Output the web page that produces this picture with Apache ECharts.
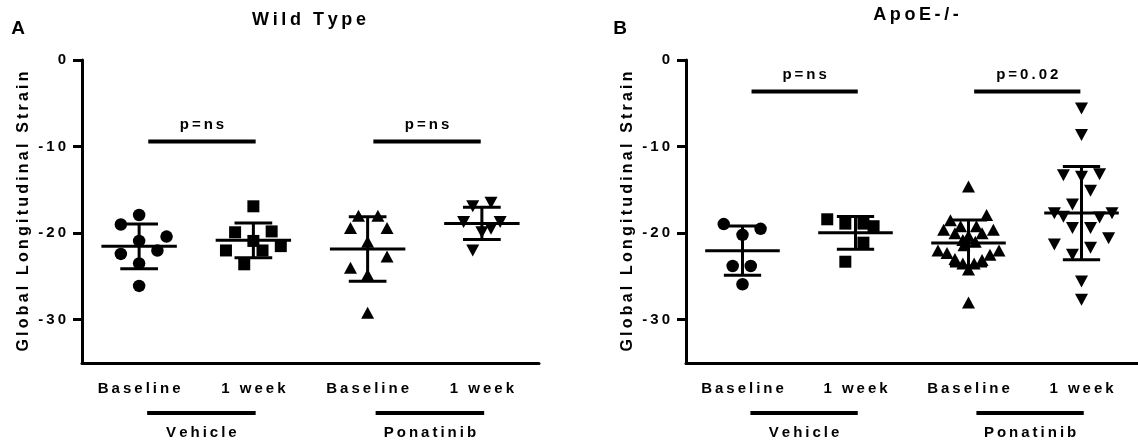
<!DOCTYPE html>
<html>
<head>
<meta charset="utf-8">
<script src="https://cdn.jsdelivr.net/npm/echarts@6/dist/echarts.min.js"></script>
<style>
  html, body { margin: 0; padding: 0; background: #fff; }
  #chart { width: 1138px; height: 447px; }
</style>
</head>
<body>
<div id="chart"></div>
<script>
const categories = ['Baseline', '1 week', 'Baseline', '1 week'];
const groups = ['Vehicle', 'Ponatinib'];
const groupSpans = [[0.07, 1.02], [2.07, 3.02]];
const yTicks = [0, -10, -20, -30];
const yMin = -35;

// A: wild type
const wtVehBase = [-17.9, -19.0, -20.4, -20.9, -22.4, -22.0, -23.5, -26.1];
const wtVehBaseJit = [0, -0.16, 0.24, 0, -0.16, 0.16, 0, 0];
const wtVehWeek = [-16.9, -19.9, -19.8, -20.9, -22.0, -22.0, -21.5, -23.6];
const wtVehWeekJit = [0, -0.16, 0.16, 0, -0.24, 0.08, 0.24, -0.08];
const wtPonBase = [-18.0, -18.0, -19.4, -19.4, -21.0, -22.7, -24.0, -24.8, -29.2];
const wtPonBaseJit = [-0.08, 0.09, -0.15, 0.17, 0, 0.17, -0.15, 0, 0];
const wtPonWeek = [-16.5, -16.9, -18.7, -18.7, -19.5, -19.9, -22.0];
const wtPonWeekJit = [0.08, -0.08, -0.16, 0.16, 0.08, 0, -0.08];
const wtPSpans = [[0.08, 1.02], [2.05, 2.99]];
const wtPLevel = [-9.4, -9.4];
const wtPText = ['p=ns', 'p=ns'];

// B: ApoE-/-
const apoVehBase = [-18.95, -19.5, -20.2, -23.8, -23.8, -25.9];
const apoVehBaseJit = [-0.166, 0.16, 0, -0.087, 0.073, 0];
const apoVehWeek = [-18.4, -18.9, -18.9, -19.2, -21.1, -23.3];
const apoVehWeekJit = [-0.25, -0.09, 0.07, 0.16, 0.07, -0.09];
const apoPonBase = [-14.6, -17.9, -18.5, -19.2, -19.2, -19.6, -19.6, -20.0, -20.0, -20.3, -20.8, -21.0,
  -21.4, -22.0, -22.0, -22.3, -22.5, -23.0, -23.1, -23.5, -23.5, -24.2, -28.0];
const apoPonBaseJit = [0, 0.16, -0.16, -0.07, 0.07, -0.22, 0.22, -0.12, 0.12, 0, -0.05, 0.06,
  -0.04, -0.27, 0.27, -0.19, 0.19, -0.12, 0.12, -0.05, 0.05, 0, 0];
const apoPonWeek = [-5.6, -8.65, -13.3, -13.5, -13.2, -15.1, -16.7, -17.7, -18.1, -17.7, -18.2,
  -19.4, -19.4, -21.3, -20.6, -22.5, -21.7, -25.6, -27.7];
const apoPonWeekJit = [0, 0, -0.16, 0, 0.16, 0.08, -0.08, -0.24, -0.16, 0.27, 0.16,
  -0.08, 0.08, -0.24, 0.24, -0.08, 0.08, 0, 0];
const apoPSpans = [[0.08, 1.02], [2.05, 2.99]];
const apoPLevel = [-3.65, -3.65];
const apoPText = ['p=ns', 'p=0.02'];

const FONT = '"Liberation Sans", Arial, sans-serif';
// GraphPad-style wide tracking (thin space between letters)
const spaced = s => String(s).split('').join('\u2009');

function meanSd(arr) {
  const n = arr.length;
  const m = arr.reduce((a, b) => a + b, 0) / n;
  const sd = Math.sqrt(arr.reduce((a, b) => a + (b - m) * (b - m), 0) / (n - 1));
  return [m, sd];
}

function scatter(vals, jit, cat, symbol, size, rotate, xi, yi) {
  return {
    type: 'scatter', xAxisIndex: xi, yAxisIndex: yi, silent: true, z: 3,
    symbol: symbol, symbolSize: size, symbolRotate: rotate,
    itemStyle: { color: '#000', opacity: 1 },
    data: vals.map((v, i) => [cat + jit[i], v])
  };
}

function errorBars(cols, xi, yi) {
  return {
    type: 'custom', xAxisIndex: xi, yAxisIndex: yi, silent: true, z: 4, clip: false,
    data: cols.map((c, i) => [i].concat(meanSd(c))),
    renderItem: function (params, api) {
      const x = api.value(0), m = api.value(1), sd = api.value(2);
      const c = api.coord([x, m]);
      const hi = api.coord([x, m + sd])[1];
      const lo = api.coord([x, m - sd])[1];
      const half = api.size([0.33, 0])[0];
      const cap = api.size([0.165, 0])[0];
      const style = { stroke: '#000', lineWidth: 3 };
      return {
        type: 'group', children: [
          { type: 'line', shape: { x1: c[0] - half, y1: c[1], x2: c[0] + half, y2: c[1] }, style: style },
          { type: 'line', shape: { x1: c[0], y1: hi, x2: c[0], y2: lo }, style: style },
          { type: 'line', shape: { x1: c[0] - cap, y1: hi, x2: c[0] + cap, y2: hi }, style: style },
          { type: 'line', shape: { x1: c[0] - cap, y1: lo, x2: c[0] + cap, y2: lo }, style: style }
        ]
      };
    }
  };
}

function pBars(spans, levels, texts, xi, yi) {
  return {
    type: 'custom', xAxisIndex: xi, yAxisIndex: yi, silent: true, z: 4, clip: false,
    data: spans.map((s, i) => [s[0], s[1], levels[i]]),
    renderItem: function (params, api) {
      const a = api.coord([api.value(0), api.value(2)]);
      const b = api.coord([api.value(1), api.value(2)]);
      return {
        type: 'group', children: [
          { type: 'line', shape: { x1: a[0], y1: a[1], x2: b[0], y2: b[1] }, style: { stroke: '#000', lineWidth: 4 } },
          { type: 'text', x: (a[0] + b[0]) / 2, y: a[1] - 9,
            style: { text: spaced(texts[params.dataIndex]), fill: '#000', font: 'bold 15px ' + FONT,
              align: 'center', verticalAlign: 'bottom' } }
        ]
      };
    }
  };
}

function groupBrackets(xi, yi) {
  return {
    type: 'custom', xAxisIndex: xi, yAxisIndex: yi, silent: true, z: 4, clip: false,
    data: groupSpans.map(s => [s[0], s[1], yMin]),
    renderItem: function (params, api) {
      const a = api.coord([api.value(0), api.value(2)]);
      const b = api.coord([api.value(1), api.value(2)]);
      return {
        type: 'group', children: [
          { type: 'line', shape: { x1: a[0], y1: a[1] + 50, x2: b[0], y2: a[1] + 50 }, style: { stroke: '#000', lineWidth: 4 } },
          { type: 'text', x: (a[0] + b[0]) / 2, y: a[1] + 70,
            style: { text: spaced(groups[params.dataIndex]), fill: '#000', font: 'bold 15px ' + FONT,
              align: 'center', verticalAlign: 'middle' } }
        ]
      };
    }
  };
}

function catAxis(gi) {
  return {
    type: 'category', gridIndex: gi, data: categories, boundaryGap: true,
    axisLine: { onZero: false, lineStyle: { color: '#000', width: 3 } },
    axisTick: { alignWithLabel: true, length: 8, lineStyle: { color: '#000', width: 3 } },
    axisLabel: { formatter: spaced, color: '#000', fontFamily: FONT, fontWeight: 'bold', fontSize: 15, margin: 18 },
    splitLine: { show: false }
  };
}

function valXAxis(gi) {
  return { type: 'value', gridIndex: gi, min: -0.5, max: 3.5, show: false, splitLine: { show: false } };
}

function yAxis(gi) {
  return {
    type: 'value', gridIndex: gi, min: yMin, max: 0,
    name: spaced('Global Longitudinal Strain'), nameLocation: 'middle', nameGap: 50, nameRotate: 90,
    nameTextStyle: { color: '#000', fontFamily: FONT, fontWeight: 'bold', fontSize: 16 },
    axisLine: { show: true, onZero: false, lineStyle: { color: '#000', width: 3 } },
    axisTick: { show: true, customValues: yTicks, length: 9, lineStyle: { color: '#000', width: 3 } },
    axisLabel: { customValues: yTicks, formatter: spaced, color: '#000', fontFamily: FONT, fontWeight: 'bold', fontSize: 15, margin: 16 },
    splitLine: { show: false }
  };
}

const titleStyle = { fill: '#000', font: 'bold 18px ' + FONT, align: 'center', verticalAlign: 'middle' };
const letterStyle = { fill: '#000', font: 'bold 19px ' + FONT, align: 'center', verticalAlign: 'middle' };

const option = {
  animation: false,
  backgroundColor: '#fff',
  grid: [
    { left: 82, top: 60, width: 457, height: 303 },
    { left: 686, top: 60, width: 457, height: 303 }
  ],
  xAxis: [catAxis(0), catAxis(1), valXAxis(0), valXAxis(1)],
  yAxis: [yAxis(0), yAxis(1)],
  graphic: [
    { type: 'text', x: 309, y: 20, style: Object.assign({ text: spaced('Wild Type') }, titleStyle) },
    { type: 'text', x: 916, y: 15, style: Object.assign({ text: spaced('ApoE-/-') }, titleStyle) },
    { type: 'text', x: 18, y: 29, style: Object.assign({ text: 'A' }, letterStyle) },
    { type: 'text', x: 620, y: 29, style: Object.assign({ text: 'B' }, letterStyle) }
  ],
  series: [
    scatter(wtVehBase, wtVehBaseJit, 0, 'circle', 12.5, 0, 2, 0),
    scatter(wtVehWeek, wtVehWeekJit, 1, 'rect', 12, 0, 2, 0),
    scatter(wtPonBase, wtPonBaseJit, 2, 'triangle', [13, 12], 0, 2, 0),
    scatter(wtPonWeek, wtPonWeekJit, 3, 'triangle', [13, 12], 180, 2, 0),
    errorBars([wtVehBase, wtVehWeek, wtPonBase, wtPonWeek], 2, 0),
    pBars(wtPSpans, wtPLevel, wtPText, 2, 0),
    groupBrackets(2, 0),

    scatter(apoVehBase, apoVehBaseJit, 0, 'circle', 12.5, 0, 3, 1),
    scatter(apoVehWeek, apoVehWeekJit, 1, 'rect', 12, 0, 3, 1),
    scatter(apoPonBase, apoPonBaseJit, 2, 'triangle', [13, 12], 0, 3, 1),
    scatter(apoPonWeek, apoPonWeekJit, 3, 'triangle', [13, 12], 180, 3, 1),
    errorBars([apoVehBase, apoVehWeek, apoPonBase, apoPonWeek], 3, 1),
    pBars(apoPSpans, apoPLevel, apoPText, 3, 1),
    groupBrackets(3, 1)
  ]
};

const chart = echarts.init(document.getElementById('chart'));
chart.setOption(option);
</script>
</body>
</html>
